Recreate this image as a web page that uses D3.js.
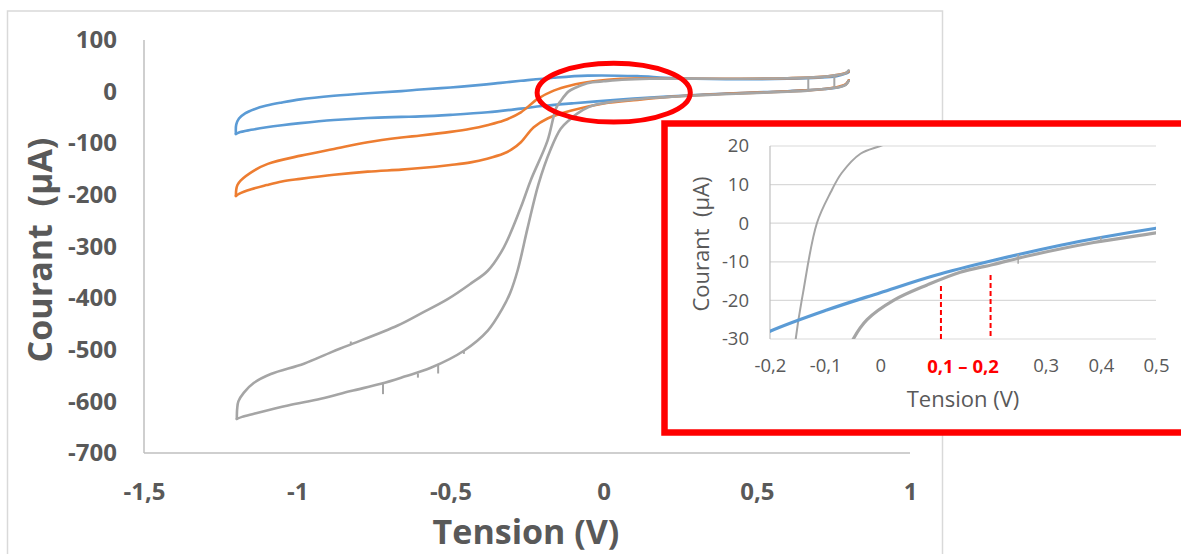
<!DOCTYPE html>
<html>
<head>
<meta charset="utf-8">
<script src="https://cdn.jsdelivr.net/npm/d3@7"></script>
<style>
  html, body { margin: 0; padding: 0; background: #fff; }
  svg { display: block; font-family: "Open Sans", "Noto Sans", sans-serif; }
</style>
</head>
<body>
<svg id="chart" width="1181" height="554"></svg>
<script>
// ---------- DATA (V, µA) ----------
const blueForward = [ // from 0.8 V down to -1.2 V
  [0.80, 22], [0.79, 14], [0.77, 9], [0.72, 5], [0.65, 2.5], [0.6, 0.8], [0.5, -1.3], [0.4, -3.7],
  [0.327, -5.7], [0.206, -9.6], [0.097, -13.6], [0, -18], [-0.097, -22.5], [-0.2, -28], [-0.27, -33],
  [-0.378, -40], [-0.5, -45], [-0.597, -48], [-0.66, -49], [-0.77, -51], [-0.88, -55],
  [-0.99, -61], [-1.05, -65], [-1.10, -69], [-1.15, -74], [-1.19, -79], [-1.2, -82]
];
const blueReturn = [ // from -1.2 V back up to 0.8 V
  [-1.2, -82], [-1.199, -64], [-1.19, -52], [-1.17, -42], [-1.14, -34], [-1.1, -27],
  [-1.05, -21], [-0.99, -15], [-0.88, -8], [-0.77, -3], [-0.66, 1], [-0.597, 4], [-0.5, 8],
  [-0.4, 13], [-0.336, 17], [-0.27, 21], [-0.163, 27], [-0.052, 31], [0.11, 30], [0.2, 27],
  [0.3, 25], [0.4, 24], [0.5, 24], [0.6, 25], [0.7, 27], [0.76, 30], [0.79, 35], [0.80, 38]
];

const orangeForward = [
  [0.80, 22], [0.79, 14], [0.77, 10], [0.72, 5], [0.65, 2], [0.6, 0.5], [0.5, -2], [0.4, -4],
  [0.3, -7], [0.2, -11], [0.11, -16], [0, -23], [-0.108, -37], [-0.183, -52], [-0.228, -69],
  [-0.27, -98], [-0.3, -112], [-0.326, -120], [-0.38, -130], [-0.434, -137], [-0.5, -142],
  [-0.597, -148], [-0.66, -151], [-0.77, -155], [-0.88, -161], [-0.99, -169], [-1.05, -174],
  [-1.1, -181], [-1.15, -189], [-1.19, -198], [-1.2, -202]
];
const orangeReturn = [
  [-1.2, -202], [-1.199, -190], [-1.195, -181], [-1.184, -172], [-1.141, -153],
  [-1.096, -140], [-0.988, -124], [-0.88, -111], [-0.77, -98], [-0.66, -89], [-0.597, -85],
  [-0.5, -78], [-0.434, -72], [-0.38, -65], [-0.326, -56], [-0.27, -40], [-0.215, -14],
  [-0.163, 2], [-0.108, 12], [-0.033, 20], [0.055, 25], [0.2, 25], [0.4, 25], [0.6, 26],
  [0.7, 28], [0.76, 32], [0.79, 36], [0.80, 39]
];

const grayForward = [
  [0.80, 21], [0.79, 13], [0.77, 9], [0.72, 5], [0.665, 2], [0.6, 0], [0.5, -2.5], [0.387, -5],
  [0.267, -8.5], [0.205, -10.7], [0.145, -12.7], [0.085, -16], [0.024, -20], [-0.024, -25],
  [-0.049, -30], [-0.085, -42], [-0.11, -54], [-0.14, -72], [-0.173, -112], [-0.212, -178],
  [-0.248, -264], [-0.28, -345], [-0.305, -390], [-0.33, -420], [-0.378, -463], [-0.456, -502],
  [-0.564, -535], [-0.65, -552], [-0.727, -566], [-0.825, -580], [-0.923, -595],
  [-1.03, -608], [-1.141, -624], [-1.18, -630], [-1.197, -634]
];
const grayReturn = [
  [-1.197, -634], [-1.196, -615], [-1.192, -600], [-1.174, -583], [-1.141, -564],
  [-1.086, -547], [-0.978, -527], [-0.89, -505], [-0.835, -492], [-0.672, -453],
  [-0.597, -430], [-0.509, -402], [-0.434, -372], [-0.378, -347], [-0.326, -302],
  [-0.27, -224], [-0.238, -172], [-0.183, -95], [-0.155, -32], [-0.14, -18], [-0.115, 0],
  [-0.09, 8], [-0.07, 13], [-0.036, 18], [0, 20], [0.06, 23], [0.15, 25], [0.4, 25],
  [0.6, 26], [0.7, 28], [0.76, 32], [0.79, 36], [0.80, 41]
];
// small measurement glitches on the gray curve: [V, I from, I to]
const grayGlitches = [
  [0.668, 27, 2], [0.753, 31, 8], [0.4, -5, -3.5], [0.25, -8, -10.5],
  [-0.72, -565, -586], [-0.54, -529, -546], [-0.606, -546, -554], [-0.456, -502, -508],
  [-0.825, -490, -484]
];

// ticks
const mainXTicks = [-1.5, -1, -0.5, 0, 0.5, 1];
const mainYTicks = [100, 0, -100, -200, -300, -400, -500, -600, -700];
const insetXTicks = [-0.2, -0.1, 0, 0.3, 0.4, 0.5];
const insetYTicks = [20, 10, 0, -10, -20, -30];
// annotations
const insetMarkV = [0.11, 0.2];
const insetMarkTop = [-16.3, -13.4];
const ellipseCenter = [0.033, -2];
const ellipseHalf = [0.25, 57];

// ---------- DRAW ----------
const svg = d3.select("#chart");
const fmt = v => String(v).replace(".", ",");
const textColor = "#595959";
const colors = { blue: "#5b9bd5", orange: "#ed7d31", gray: "#a5a5a5" };

// outer chart border
svg.append("rect").attr("x", 7.5).attr("y", 11).attr("width", 935).attr("height", 560)
  .attr("fill", "#fff").attr("stroke", "#d9d9d9").attr("stroke-width", 1.5);

const x = d3.scaleLinear().domain([-1.5, 1]).range([144, 910]);
const y = d3.scaleLinear().domain([-700, 100]).range([453, 40]);

svg.append("line").attr("x1", x(-1.5)).attr("x2", x(-1.5)).attr("y1", y(100)).attr("y2", y(-700))
  .attr("stroke", "#bfbfbf").attr("stroke-width", 1.5);
svg.append("line").attr("x1", x(-1.5)).attr("x2", x(1)).attr("y1", y(-700)).attr("y2", y(-700))
  .attr("stroke", "#bfbfbf").attr("stroke-width", 1.5);

const yAxis = d3.axisLeft(y).tickValues(mainYTicks).tickSize(0).tickPadding(27).tickFormat(fmt);
const gy = svg.append("g").attr("transform", `translate(${x(-1.5)},0)`).call(yAxis);
gy.select(".domain").remove();
gy.selectAll("text").attr("fill", textColor).attr("font-size", 24).attr("font-weight", 700)
  .attr("font-family", "Open Sans");

const xAxis = d3.axisBottom(x).tickValues(mainXTicks).tickSize(0).tickPadding(30).tickFormat(fmt);
const gx = svg.append("g").attr("transform", `translate(0,${y(-700)})`).call(xAxis);
gx.select(".domain").remove();
gx.selectAll("text").attr("fill", textColor).attr("font-size", 24).attr("font-weight", 700)
  .attr("font-family", "Open Sans");

svg.append("text").attr("transform", "translate(52,250) rotate(-90)")
  .attr("text-anchor", "middle").attr("fill", textColor).attr("font-size", 34)
  .attr("font-weight", 700).style("white-space", "pre").text("Courant  (µA)");
svg.append("text").attr("x", 526).attr("y", 544)
  .attr("text-anchor", "middle").attr("fill", textColor).attr("font-size", 34)
  .attr("font-weight", 700).text("Tension (V)");

const mainLine = d3.line().x(d => x(d[0])).y(d => y(d[1])).curve(d3.curveCatmullRom.alpha(0.5));
const mainData = [
  ["blue", blueForward], ["blue", blueReturn],
  ["orange", orangeForward], ["orange", orangeReturn],
  ["gray", grayForward], ["gray", grayReturn]
];
svg.append("g").selectAll("path").data(mainData).join("path")
  .attr("d", d => mainLine(d[1])).attr("fill", "none")
  .attr("stroke", d => colors[d[0]]).attr("stroke-width", 2.6)
  .attr("stroke-linejoin", "round").attr("stroke-linecap", "round");
svg.append("g").selectAll("line").data(grayGlitches).join("line")
  .attr("x1", d => x(d[0])).attr("x2", d => x(d[0]))
  .attr("y1", d => y(d[1])).attr("y2", d => y(d[2]))
  .attr("stroke", colors.gray).attr("stroke-width", 2);

// red ellipse annotation
svg.append("ellipse")
  .attr("cx", x(ellipseCenter[0])).attr("cy", y(ellipseCenter[1]))
  .attr("rx", x(ellipseCenter[0] + ellipseHalf[0]) - x(ellipseCenter[0]))
  .attr("ry", y(ellipseCenter[1] - ellipseHalf[1]) - y(ellipseCenter[1]))
  .attr("fill", "none").attr("stroke", "#ff0000").attr("stroke-width", 5);

// ---------- INSET ----------
svg.append("rect").attr("x", 664.5).attr("y", 123.5).attr("width", 540).attr("height", 309)
  .attr("fill", "#fff").attr("stroke", "#ff0000").attr("stroke-width", 6.5);

const ix = d3.scaleLinear().domain([-0.2, 0.5]).range([770, 1156]);
const iy = d3.scaleLinear().domain([-30, 20]).range([339, 146]);

svg.append("g").selectAll("line").data(insetYTicks).join("line")
  .attr("x1", ix(-0.2)).attr("x2", ix(0.5)).attr("y1", d => iy(d)).attr("y2", d => iy(d))
  .attr("stroke", "#d9d9d9").attr("stroke-width", 1.2);
svg.append("line").attr("x1", ix(-0.2)).attr("x2", ix(-0.2)).attr("y1", iy(20)).attr("y2", iy(-30))
  .attr("stroke", "#bfbfbf").attr("stroke-width", 1.2);

const iyAxis = d3.axisLeft(iy).tickValues(insetYTicks).tickSize(0).tickPadding(21).tickFormat(fmt);
const igy = svg.append("g").attr("transform", `translate(${ix(-0.2)},0)`).call(iyAxis);
igy.select(".domain").remove();
igy.selectAll("text").attr("fill", textColor).attr("font-size", 18.5).attr("font-family", "Open Sans");

const ixAxis = d3.axisBottom(ix).tickValues(insetXTicks).tickSize(0).tickPadding(20).tickFormat(fmt);
const igx = svg.append("g").attr("transform", `translate(0,${iy(-30)})`).call(ixAxis);
igx.select(".domain").remove();
igx.selectAll("text").attr("fill", textColor).attr("font-size", 18.5).attr("font-family", "Open Sans");

svg.append("text").attr("x", (ix(0.1) + ix(0.2)) / 2).attr("y", 373)
  .attr("text-anchor", "middle").attr("fill", "#ff0000").attr("font-size", 18.5)
  .attr("font-weight", 700).text("0,1 – 0,2");

svg.append("text").attr("transform", "translate(709,244) rotate(-90)")
  .attr("text-anchor", "middle").attr("fill", textColor).attr("font-size", 22)
  .style("white-space", "pre").text("Courant  (µA)");
svg.append("text").attr("x", 963).attr("y", 407)
  .attr("text-anchor", "middle").attr("fill", textColor).attr("font-size", 22)
  .text("Tension (V)");

svg.append("clipPath").attr("id", "insetClip").append("rect")
  .attr("x", ix(-0.2)).attr("y", iy(20)).attr("width", ix(0.5) - ix(-0.2)).attr("height", iy(-30) - iy(20));
const insetLine = d3.line().x(d => ix(d[0])).y(d => iy(d[1])).curve(d3.curveCatmullRom.alpha(0.5));
const insetG = svg.append("g").attr("clip-path", "url(#insetClip)");
const insetData = [
  ["gray", grayReturn, 2], ["gray", grayForward, 3.2],
  ["blue", blueReturn, 3.2], ["blue", blueForward, 3.2]
];
insetG.selectAll("path").data(insetData).join("path")
  .attr("d", d => insetLine(d[1])).attr("fill", "none")
  .attr("stroke", d => colors[d[0]]).attr("stroke-width", d => d[2]);
insetG.selectAll("line").data(grayGlitches).join("line")
  .attr("x1", d => ix(d[0])).attr("x2", d => ix(d[0]))
  .attr("y1", d => iy(d[1])).attr("y2", d => iy(d[2]))
  .attr("stroke", colors.gray).attr("stroke-width", 1.5);

svg.append("g").selectAll("line").data(insetMarkV).join("line")
  .attr("x1", d => ix(d)).attr("x2", d => ix(d))
  .attr("y1", (d, i) => iy(insetMarkTop[i])).attr("y2", iy(-30))
  .attr("stroke", "#ff0000").attr("stroke-width", 2).attr("stroke-dasharray", "5,3");
</script>
</body>
</html>
